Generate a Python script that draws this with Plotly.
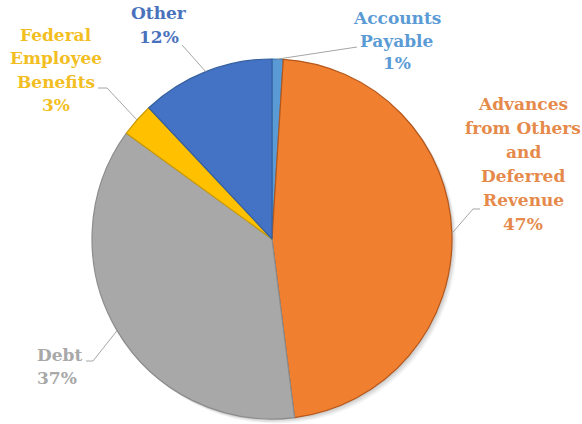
import math
import plotly.graph_objects as go

# ---- data ----
labels = ["Accounts Payable", "Advances from Others and Deferred Revenue", "Debt",
          "Federal Employee Benefits", "Other"]
values = [1, 47, 37, 3, 12]
label_lines = [["Accounts", "Payable", "1%"],
               ["Advances", "from Others", "and", "Deferred", "Revenue", "47%"],
               ["Debt", "37%"],
               ["Federal", "Employee", "Benefits", "3%"],
               ["Other", "12%"]]

# ---- style ----
W, H = 582, 424
slice_colors = ["#5B9BD5", "#F0802F", "#A8A8A8", "#FFC000", "#4472C4"]
edge_colors = ["#3F78AD", "#B5561A", "#8C8C8C", "#C99A00", "#35609F"]
text_colors = ["#5B9BD5", "#E58A4B", "#A8A8A8", "#F2BE22", "#4A72BC"]
CX, CY, R = 272, 239, 180  # pie centre / radius in pixels

# label placement (pixels): x, first-line centre y, line step, anchor, leader waypoints
label_pos = [
    dict(x=397, y=18, step=22.5, xanchor="center", way=[(357, 47)]),
    dict(x=523, y=104, step=24, xanchor="center", way=[(473, 209), (480, 209)]),
    dict(x=35, y=355, step=23, xanchor="left", way=[(93, 361), (86, 361)]),
    dict(x=56, y=35, step=23.3, xanchor="center", way=[(107, 88), (98, 88)]),
    dict(x=159, y=13, step=24, xanchor="center", way=[(182, 45)]),
]


def px2paper(x, y):
    return x / W, 1 - y / H


def clamp(v):
    return min(1.0, max(0.0, v))


def domain(cx, cy, r):
    x0, y0 = px2paper(cx - r, cy + r)
    x1, y1 = px2paper(cx + r, cy - r)
    return dict(x=[clamp(x0), clamp(x1)], y=[clamp(y0), clamp(y1)])


fig = go.Figure()

# soft shadow behind the pie
for off, a in [(4.5, 0.05), (3, 0.07), (1.5, 0.08)]:
    fig.add_trace(go.Pie(
        labels=labels, values=values, sort=False, direction="clockwise", rotation=0,
        marker=dict(colors=[f"rgba(0,0,0,{a})"] * len(values), line=dict(width=0)),
        textinfo="none", hoverinfo="skip", showlegend=False,
        domain=domain(CX + off, CY + off, R),
    ))

fig.add_trace(go.Pie(
    labels=labels, values=values, sort=False, direction="clockwise", rotation=0,
    marker=dict(colors=slice_colors, line=dict(color=edge_colors, width=1.2)),
    textinfo="none", hoverinfo="label+percent", showlegend=False,
    domain=domain(CX, CY, R),
))

total = sum(values)
cum = 0
shapes = []
annotations = []
for i, v in enumerate(values):
    mid = (cum + v / 2) / total * 2 * math.pi
    cum += v
    ex = CX + R * math.sin(mid)
    ey = CY - R * math.cos(mid)
    pts = [(ex, ey)] + label_pos[i]["way"]
    path = ""
    for j, (px, py) in enumerate(pts):
        qx, qy = px2paper(px, py)
        path += ("M" if j == 0 else " L") + f" {qx:.5f} {qy:.5f}"
    shapes.append(dict(type="path", path=path, xref="paper", yref="paper",
                       line=dict(color="#A6A6A6", width=1)))
    lp = label_pos[i]
    for k, line in enumerate(label_lines[i]):
        lx, ly = px2paper(lp["x"], lp["y"] + k * lp["step"])
        annotations.append(dict(
            x=lx, y=ly, xref="paper", yref="paper", text=line, showarrow=False,
            xanchor=lp["xanchor"], yanchor="middle",
            font=dict(family="DejaVu Serif", size=17, color=text_colors[i], weight="bold"),
        ))

fig.update_layout(
    width=W, height=H, margin=dict(l=0, r=0, t=0, b=0),
    paper_bgcolor="white", plot_bgcolor="white",
    shapes=shapes, annotations=annotations,
)

fig.write_html("out.html", config={"displayModeBar": False},
               post_script="document.body.style.margin='0';")
